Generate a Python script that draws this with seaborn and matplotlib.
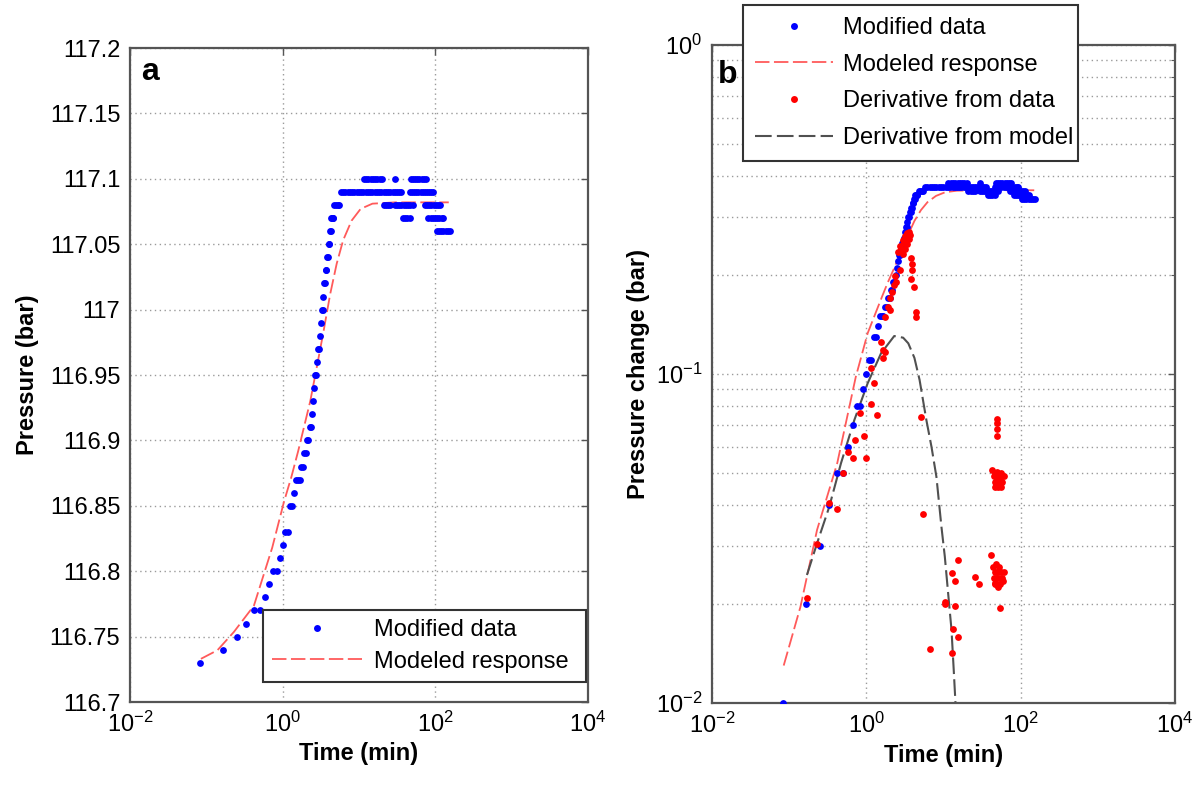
import numpy as np
import pandas as pd
import matplotlib
matplotlib.use("Agg")
import matplotlib.pyplot as plt
import seaborn as sns
from matplotlib.lines import Line2D
from matplotlib.ticker import (FixedLocator, FuncFormatter, LogLocator,
                               NullFormatter, NullLocator, LogFormatterSciNotation)

# ---------------- data ----------------
P0 = 116.72  # initial pressure (bar)

# rising part of the measured ("modified") data
rise_t = [0.083, 0.167, 0.25, 0.333, 0.417, 0.5, 0.583, 0.667, 0.75, 0.833,
          0.917, 1.0, 1.083, 1.167, 1.25, 1.333, 1.417, 1.5, 1.583, 1.667,
          1.75, 1.833, 1.917, 2.0, 2.083, 2.167, 2.25, 2.333, 2.417, 2.5,
          2.583, 2.667, 2.75, 2.833, 2.917, 3.0, 3.083, 3.167, 3.25, 3.333,
          3.417, 3.5, 3.583, 3.667, 3.75, 3.833, 3.917, 4.0, 4.083, 4.167,
          4.25, 4.333, 4.417, 4.5, 4.583, 4.75, 5.0, 5.25, 5.5]
rise_p = [116.73, 116.74, 116.75, 116.76, 116.77, 116.77, 116.78, 116.79, 116.80, 116.80,
          116.81, 116.82, 116.83, 116.83, 116.85, 116.85, 116.86, 116.87, 116.87, 116.87,
          116.88, 116.88, 116.89, 116.89, 116.90, 116.90, 116.91, 116.91, 116.92, 116.93,
          116.94, 116.95, 116.95, 116.96, 116.97, 116.97, 116.98, 116.99, 117.00, 117.00,
          117.01, 117.02, 117.02, 117.03, 117.03, 117.04, 117.04, 117.05, 117.05, 117.06,
          117.06, 117.07, 117.07, 117.07, 117.07, 117.08, 117.08, 117.08, 117.08]

# plateau readings: times (min) at which each pressure level was recorded
t_at_117_10 = [11.6, 12.4, 13.3, 14.2, 15.2, 16.2, 17.4, 18.6, 20.0, 29.5,
               48, 51, 54.5, 58, 62, 66.5, 71, 76]
t_at_117_09 = [5.8, 6.2, 6.6, 7.1, 7.6, 8.1, 8.7, 9.3, 10.0, 10.7, 11.4, 12.2,
               13.1, 14.0, 15.0, 16.0, 17.1, 18.3, 19.6, 21.0, 22.5, 24.0, 25.7,
               27.5, 29.4, 31.5, 33.7, 36.0, 46, 49, 52.5, 56, 60, 64, 68.5,
               73, 78, 83.5, 89, 93]
t_at_117_08 = [21, 22.5, 24, 25.5, 29.5, 31.5, 33.7, 36, 38.5, 41, 44, 47, 50.5,
               73, 78, 83.5, 89, 95, 101.5, 108.5, 115]
t_at_117_07 = [37.5, 40, 43, 46, 81, 86.5, 92.5, 99, 106, 113, 121, 127]
t_at_117_06 = [104, 111, 119, 127, 136, 145, 155]

# modeled response (pressure change, bar)
model_t = [0.085, 0.14, 0.23, 0.42, 0.73, 1.04, 1.3, 1.6, 1.9, 2.3, 2.8, 3.4,
           4.2, 5.1, 6.2, 8.0, 10.5, 15, 30, 60, 150]
model_dp = [0.013, 0.0196, 0.0336, 0.0536, 0.098, 0.133, 0.152, 0.172, 0.190,
            0.210, 0.236, 0.262, 0.292, 0.315, 0.333, 0.348, 0.357, 0.361,
            0.362, 0.362, 0.362]

# derivative from model
dmodel_t = [0.17, 0.23, 0.33, 0.47, 0.70, 1.04, 1.55, 2.3, 3.0, 3.5, 4.2, 4.9,
            6.0, 7.0, 8.1, 9.4, 10.4, 11.5, 12.7, 13.6, 14.3]
dmodel_dp = [0.0245, 0.0306, 0.0394, 0.0536, 0.0725, 0.0937, 0.1156, 0.1305,
             0.129, 0.124, 0.112, 0.096, 0.0725, 0.060, 0.0487, 0.0344, 0.0279,
             0.0215, 0.0167, 0.0125, 0.0100]

# derivative from data
ddata_t = [0.168, 0.232, 0.329, 0.414, 0.506, 0.571, 0.664, 0.718, 0.924, 0.99,
           0.834, 1.15, 1.38, 1.27, 1.55, 1.63, 1.77, 1.63, 1.15, 1.75, 1.91,
           2.05, 2.13, 2.05, 2.33, 2.43, 2.3, 2.7, 3.83, 3.89, 3.89, 3.8, 4.1,
           4.43, 4.43,
           2.6, 2.75, 2.85, 2.95, 3.05, 3.15, 3.25, 3.35, 3.45, 3.55, 3.0, 3.2,
           3.4, 3.6, 3.7,
           5.06, 5.43, 6.64, 10.4, 10.6, 12.8, 13.9, 15.5, 13.9, 13.4, 15.5,
           13.0, 25.6, 29, 41.4,
           49, 49, 49, 49.5,
           43, 45, 46, 47, 48, 49, 50, 51, 52, 53, 54, 56, 58, 60, 47, 51, 55,
           44, 45, 46, 47, 48, 49, 50, 51, 52, 53, 54, 55, 57, 59, 61, 50, 46, 54]
ddata_dp = [0.0208, 0.0305, 0.0406, 0.0388, 0.0501, 0.058, 0.0554, 0.063, 0.0646,
            0.0554, 0.076, 0.081, 0.075, 0.094, 0.125, 0.118, 0.117, 0.112, 0.104,
            0.149, 0.160, 0.157, 0.178, 0.170, 0.198, 0.191, 0.187, 0.207, 0.226,
            0.216, 0.207, 0.195, 0.184, 0.1545, 0.149,
            0.235, 0.245, 0.24, 0.255, 0.25, 0.262, 0.255, 0.268, 0.26, 0.27,
            0.232, 0.24, 0.248, 0.258, 0.265,
            0.0738, 0.0375, 0.0146, 0.020, 0.0203, 0.0248, 0.0235, 0.0272, 0.0197,
            0.0168, 0.0159, 0.0142, 0.0242, 0.023, 0.0282,
            0.065, 0.068, 0.071, 0.073,
            0.051, 0.049, 0.047, 0.050, 0.046, 0.048, 0.0505, 0.047, 0.049, 0.046,
            0.048, 0.050, 0.047, 0.049, 0.0455, 0.0455, 0.0455,
            0.026, 0.024, 0.025, 0.023, 0.0265, 0.024, 0.025, 0.0225, 0.026, 0.024,
            0.023, 0.025, 0.024, 0.0235, 0.025, 0.0228, 0.0232, 0.0195]

x_ticks = [1e-2, 1e0, 1e2, 1e4]
legend_a = ["Modified data", "Modeled response"]
legend_b = ["Modified data", "Modeled response", "Derivative from data",
            "Derivative from model"]

# ---------------- tables ----------------
levels = [(117.10, t_at_117_10), (117.09, t_at_117_09), (117.08, t_at_117_08),
          (117.07, t_at_117_07), (117.06, t_at_117_06)]
data_t = list(rise_t)
data_p = list(rise_p)
for lev, ts in levels:
    data_t += ts
    data_p += [lev] * len(ts)
meas = pd.DataFrame({"t": data_t, "p": data_p})
meas["dp"] = meas["p"] - P0
model = pd.DataFrame({"t": model_t, "dp": model_dp})
model["p"] = model["dp"] + P0
dmodel = pd.DataFrame({"t": dmodel_t, "dp": dmodel_dp})
ddata = pd.DataFrame({"t": ddata_t, "dp": ddata_dp})

# ---------------- style ----------------
sns.set_style("white")
plt.rcParams["font.family"] = ["Liberation Sans", "DejaVu Sans"]
plt.rcParams["mathtext.fontset"] = "custom"
plt.rcParams["mathtext.rm"] = "Liberation Sans"
plt.rcParams["mathtext.it"] = "Liberation Sans:italic"
plt.rcParams["mathtext.bf"] = "Liberation Sans:bold"
plt.rcParams["text.color"] = "black"
plt.rcParams["axes.labelcolor"] = "black"
plt.rcParams["xtick.color"] = "black"
plt.rcParams["ytick.color"] = "black"

FS = 17
BLUE = "#0000ff"
RED = "#ff0000"
MODEL_RED = "#ff5a5a"
GRAY = "#505050"
SPINE = "#555555"
DASH = (0, (8, 2.5))
GRID = dict(color="#9a9a9a", linestyle=(0, (1, 2.5)), linewidth=1.0)
MK = "o"
MS = 24

fig = plt.figure(figsize=(11.98, 7.87), dpi=100)
axa = fig.add_axes([0.1085, 0.108, 0.3823, 0.831])
axb = fig.add_axes([0.5943, 0.1067, 0.3865, 0.836])


def style_axes(ax):
    for s in ax.spines.values():
        s.set_color(SPINE)
        s.set_linewidth(1.6)
    ax.tick_params(which="both", direction="in", top=True, right=True,
                   colors=SPINE, labelcolor="black", labelsize=FS, pad=7)
    ax.tick_params(which="major", length=5, width=1)
    ax.tick_params(which="minor", length=3, width=0.8)
    ax.set_axisbelow(True)


# ---------------- panel a ----------------
sns.lineplot(data=model, x="t", y="p", ax=axa, color=MODEL_RED, linewidth=1.3,
             linestyle=DASH, estimator=None, sort=False, legend=False, zorder=2)
sns.scatterplot(data=meas, x="t", y="p", ax=axa, color=BLUE, marker=MK, s=MS,
                linewidth=0, legend=False, zorder=3)
axa.set_xscale("log")
axa.set_xlim(1e-2, 1e4)
axa.set_ylim(116.7, 117.2)
axa.xaxis.set_major_locator(FixedLocator(x_ticks))
axa.xaxis.set_major_formatter(LogFormatterSciNotation())
axa.xaxis.set_minor_locator(NullLocator())
axa.yaxis.set_major_locator(FixedLocator(list(np.round(np.arange(116.7, 117.2001, 0.05), 2))))
axa.yaxis.set_major_formatter(FuncFormatter(lambda v, _: f"{round(v, 2):g}"))
axa.grid(True, which="major", **GRID)
style_axes(axa)
axa.set_xlabel("Time (min)", fontsize=FS, fontweight="bold", labelpad=4)
axa.set_ylabel("Pressure (bar)", fontsize=FS, fontweight="bold", labelpad=8)
axa.text(0.025, 0.963, "a", transform=axa.transAxes, fontsize=23,
         fontweight="bold", va="center", ha="left")

ha = [Line2D([], [], color=BLUE, marker=MK, markersize=5, linestyle="None",
             markeredgewidth=0),
      Line2D([], [], color=MODEL_RED, linestyle=DASH, linewidth=1.3)]
lga = axa.legend(ha, legend_a, loc="lower left", mode="expand",
                 bbox_to_anchor=(0.29, 0.0306, 0.7056, 0.1223), fontsize=FS,
                 frameon=True, fancybox=False, framealpha=1, edgecolor="#333333",
                 handlelength=3.8, handletextpad=0.5, borderpad=0.4,
                 labelspacing=0.4, borderaxespad=0)
lga.get_frame().set_linewidth(1.5)

# ---------------- panel b ----------------
sns.lineplot(data=model, x="t", y="dp", ax=axb, color=MODEL_RED, linewidth=1.3,
             linestyle=DASH, estimator=None, sort=False, legend=False, zorder=2)
sns.lineplot(data=dmodel, x="t", y="dp", ax=axb, color=GRAY, linewidth=1.5,
             linestyle=DASH, estimator=None, sort=False, legend=False, zorder=2)
sns.scatterplot(data=meas, x="t", y="dp", ax=axb, color=BLUE, marker=MK, s=MS,
                linewidth=0, legend=False, zorder=3)
sns.scatterplot(data=ddata, x="t", y="dp", ax=axb, color=RED, marker=MK, s=MS,
                linewidth=0, legend=False, zorder=4)
axb.set_xscale("log")
axb.set_yscale("log")
axb.set_xlim(1e-2, 1e4)
axb.set_ylim(1e-2, 1e0)
axb.xaxis.set_major_locator(FixedLocator(x_ticks))
axb.xaxis.set_major_formatter(LogFormatterSciNotation())
axb.xaxis.set_minor_locator(NullLocator())
axb.yaxis.set_major_locator(FixedLocator([1e-2, 1e-1, 1e0]))
axb.yaxis.set_major_formatter(LogFormatterSciNotation())
axb.yaxis.set_minor_locator(LogLocator(base=10, subs=np.arange(2, 10)))
axb.yaxis.set_minor_formatter(NullFormatter())
axb.grid(True, which="major", axis="x", **GRID)
axb.grid(True, which="both", axis="y", **GRID)
style_axes(axb)
axb.set_xlabel("Time (min)", fontsize=FS, fontweight="bold", labelpad=4)
axb.set_ylabel("Pressure change (bar)", fontsize=FS, fontweight="bold", labelpad=4)
axb.text(0.012, 0.954, "b", transform=axb.transAxes, fontsize=23,
         fontweight="bold", va="center", ha="left")

hb = [Line2D([], [], color=BLUE, marker=MK, markersize=5, linestyle="None",
             markeredgewidth=0),
      Line2D([], [], color=MODEL_RED, linestyle=DASH, linewidth=1.3),
      Line2D([], [], color=RED, marker=MK, markersize=5, linestyle="None",
             markeredgewidth=0),
      Line2D([], [], color=GRAY, linestyle=DASH, linewidth=1.5)]
lgb = axb.legend(hb, legend_b, loc="upper left", mode="expand",
                 bbox_to_anchor=(0.067, 0.825, 0.7235, 0.2356), fontsize=FS,
                 frameon=True, fancybox=False, framealpha=1, edgecolor="#333333",
                 handlelength=3.3, handletextpad=0.45, borderpad=0.5,
                 labelspacing=0.62, borderaxespad=0)
lgb.get_frame().set_linewidth(1.5)
lgb.set_zorder(10)

fig.savefig("out.png", dpi=100)
